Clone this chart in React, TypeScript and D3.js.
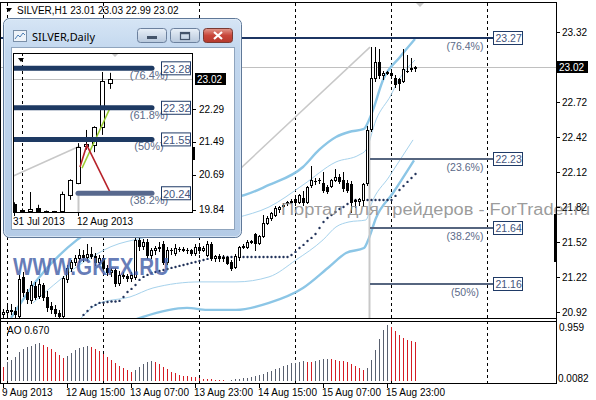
import React from 'react';
import * as d3 from 'd3';

// ---------- main H1 chart data ----------
const openP = [20.90,20.92,20.94,20.93,20.89,21.22,21.09,21.02,21.14,21.06,
 21.15,21.05,20.97,20.95,20.91,20.89,21.20,21.30,21.35,21.38,
 21.41,21.39,21.42,21.40,21.35,21.38,21.30,21.26,21.28,21.17,
 21.24,21.23,21.21,21.22,21.54,21.49,21.52,21.41,21.45,21.47,
 21.50,21.35,21.45,21.43,21.46,21.46,21.45,21.45,21.43,21.48,
 21.45,21.41,21.50,21.38,21.40,21.38,21.39,21.35,21.31,21.39,
 21.48,21.48,21.52,21.59,21.51,21.57,21.68,21.73,21.75,21.80,
 21.83,21.85,21.86,21.89,21.86,21.90,21.86,22.01,22.04,22.05,
 22.03,21.99,22.00,22.05,22.08,22.05,22.03,22.02,21.88,21.87,
 21.88,22.03,22.49,22.93,23.06,22.95,22.97,22.97,22.93,22.92,
 22.90,22.99,23.00,23.01];
const highP = [20.95,20.97,20.99,20.96,21.24,21.26,21.12,21.19,21.18,21.20,
 21.17,21.10,21.01,20.98,20.94,21.23,21.32,21.37,21.41,21.46,
 21.45,21.50,21.48,21.43,21.41,21.40,21.32,21.30,21.30,21.27,
 21.26,21.25,21.26,21.56,21.58,21.55,21.55,21.47,21.49,21.52,
 21.53,21.48,21.47,21.50,21.48,21.48,21.47,21.46,21.50,21.49,
 21.49,21.53,21.52,21.41,21.42,21.41,21.40,21.37,21.42,21.49,
 21.50,21.54,21.54,21.60,21.58,21.75,21.74,21.78,21.83,21.83,
 21.85,21.87,21.89,21.91,21.93,21.96,22.00,22.17,22.07,22.07,
 22.12,22.01,22.06,22.15,22.10,22.12,22.05,22.04,21.89,21.90,
 22.03,22.51,23.19,23.19,23.17,22.99,22.99,22.99,22.95,22.93,
 23.17,23.12,23.10,23.03];
const lowP = [20.86,20.89,20.90,20.88,20.88,21.06,21.00,21.00,21.03,21.04,
 21.02,20.93,20.91,20.89,20.87,20.88,21.18,21.27,21.32,21.35,
 21.36,21.37,21.38,21.32,21.33,21.27,21.24,21.23,21.14,21.15,
 21.21,21.19,21.19,21.20,21.45,21.46,21.38,21.38,21.42,21.44,
 21.33,21.33,21.42,21.41,21.44,21.44,21.43,21.41,21.41,21.43,
 21.44,21.40,21.37,21.36,21.36,21.36,21.33,21.28,21.30,21.37,
 21.47,21.47,21.51,21.45,21.50,21.56,21.67,21.71,21.74,21.78,
 21.82,21.84,21.85,21.84,21.85,21.84,21.85,21.99,22.02,22.03,
 21.95,21.94,21.99,22.04,22.03,21.96,21.95,21.78,21.82,21.84,
 21.83,22.01,22.47,22.90,22.93,22.92,22.96,22.93,22.85,22.82,
 22.89,22.98,22.99,22.99];
const closeP = [20.92,20.94,20.93,20.90,21.20,21.09,21.03,21.15,21.05,21.16,
 21.05,20.96,20.95,20.91,20.89,21.21,21.30,21.35,21.38,21.41,
 21.39,21.42,21.40,21.35,21.38,21.30,21.26,21.28,21.17,21.24,
 21.23,21.21,21.24,21.54,21.49,21.52,21.41,21.45,21.47,21.48,
 21.35,21.45,21.45,21.47,21.46,21.45,21.45,21.43,21.48,21.45,
 21.47,21.50,21.38,21.40,21.38,21.39,21.34,21.30,21.40,21.48,
 21.49,21.52,21.53,21.51,21.57,21.68,21.73,21.77,21.81,21.82,
 21.84,21.86,21.87,21.86,21.92,21.86,21.99,22.05,22.04,22.05,
 21.97,21.96,22.05,22.08,22.04,21.98,21.97,21.86,21.87,21.89,
 22.02,22.48,22.93,23.06,22.95,22.97,22.98,22.95,22.87,22.88,
 23.00,22.99,23.01,23.02];

// Awesome Oscillator
const aoPrev = 0.26;
const aoValues = [0.24,0.33,0.36,0.41,0.50,0.55,0.58,0.60,0.63,0.65,
 0.62,0.58,0.55,0.50,0.45,0.39,0.43,0.48,0.53,0.57,
 0.59,0.60,0.58,0.55,0.51,0.46,0.41,0.36,0.31,0.26,
 0.22,0.19,0.16,0.19,0.24,0.29,0.33,0.345,0.33,0.29,
 0.24,0.20,0.15,0.13,0.10,0.09,0.08,0.07,0.06,0.05,
 0.04,0.034,0.026,0.019,0.016,0.011,0.008,0.017,0.026,0.034,
 0.043,0.05,0.07,0.09,0.10,0.12,0.15,0.17,0.21,0.23,
 0.26,0.28,0.30,0.315,0.325,0.335,0.33,0.325,0.345,0.36,
 0.375,0.38,0.37,0.36,0.35,0.34,0.33,0.29,0.26,0.22,
 0.19,0.22,0.36,0.53,0.72,0.87,0.959,0.92,0.85,0.78,
 0.74,0.71,0.69,0.67];

// Parabolic SAR (from bar 19)
const sarStart = 19;
const sarValues = [20.852,20.895,20.929,20.964,20.981,20.998,21.00,21.006,21.01,21.01,
 21.015,21.049,21.092,21.118,21.152,21.195,21.221,21.238,21.255,21.263,
 21.272,21.281,21.289,21.298,21.306,21.315,21.323,21.332,21.341,21.349,
 21.358,21.366,21.375,21.383,21.383,21.392,21.392,21.392,21.392,21.392,
 21.392,21.392,21.392,21.392,21.392,21.392,21.392,21.392,21.392,21.392,
 21.392,21.392,21.392,21.409,21.435,21.469,21.495,21.529,21.555,21.589,
 21.640,21.692,21.726,21.752,21.777,21.803,21.820,21.846,21.872,21.880,
 21.880,21.880,21.880,21.880,21.880,21.880,21.880,21.880,21.880,21.915,
 21.966,22.000,22.035,22.069,22.103];

// Envelope bands, read as [bar, price]
const upperOuter = [[2,20.87],[8.5,21.195],[18.5,21.538],[30,21.75],[45,21.88],[58.25,21.906],[66.5,22.009],[75,22.163],[79,22.309],[83.25,22.42],[86.5,22.463],[90.25,22.489],[91.5,22.566],[92.5,22.652],[95,22.909],[99.25,23.106],[103,23.26]];
const upperInner = [[7.5,20.998],[21,21.366],[27,21.48],[35,21.555],[45,21.62],[58.25,21.726],[66.5,21.82],[75,22.009],[83.25,22.206],[89,22.266],[90.75,22.309],[93.25,22.566],[97,22.78],[98.5,22.883],[103,23.08]];
const lowerInner = [[18,20.81],[24.25,20.998],[31.75,21.049],[37.5,21.126],[49.25,21.178],[58.25,21.178],[66.5,21.221],[73.25,21.366],[80,21.538],[83.25,21.649],[86.5,21.692],[90.75,21.709],[92,21.838],[96.5,22.078],[102.5,22.395]];
const lowerOuter = [[29,20.80],[35,20.878],[46,20.955],[51,20.938],[58.25,20.938],[66.5,20.998],[75,21.126],[81.5,21.306],[85.75,21.426],[90.25,21.469],[91.5,21.555],[93.25,21.726],[97.5,21.94],[102.75,22.22]];
const grayTrend = [[55,22.01],[91.75,23.19]];

// Fibonacci
const fibPrices = [23.27, 22.23, 21.64, 21.16];
const fibPcts = ['(76.4%)', '(23.6%)', '(38.2%)', '(50%)'];
const fibStartBars = [-1, 91.75, 91.75, 91.75];
const fibEndBar = 122.5;
const fibAnchorBar = 91.5;

const priceTicks = [23.32, 22.72, 22.42, 22.12, 21.82, 21.52, 21.22, 20.92];
const currentPrice = 23.02;
const aoMaxLabel = '0.959';
const aoMinLabel = '0.0082';
const dateLabels = ['9 Aug 2013', '12 Aug 15:00', '13 Aug 07:00', '13 Aug 23:00', '14 Aug 15:00', '15 Aug 07:00', '15 Aug 23:00'];
const dateLabelBars = [0, 16, 32, 48, 64, 80, 96];
const separatorBars = [1, 25, 49, 73, 97, 121];

// ---------- inset daily chart ----------
const insetOpen = [19.98,19.84,19.80,19.87,19.81,19.80,19.80,20.20,20.50,21.38,21.41,21.85,22.93];
const insetHigh = [20.02,19.87,20.27,19.96,19.82,19.81,20.28,20.58,21.46,21.78,21.87,23.19,23.17];
const insetLow = [19.78,19.79,19.78,19.79,19.79,19.78,19.78,20.08,20.46,21.30,21.24,21.66,22.78];
const insetClose = [19.82,19.80,19.86,19.81,19.80,19.79,20.23,20.56,21.37,21.45,21.85,22.97,23.02];
const insetFibPrices = [23.28, 22.32, 21.55, 20.24];
const insetFibPcts = ['(76.4%)', '(61.8%)', '(50%)', '(38.2%)'];
const insetFibStart = [-1, -1, -1, 8];
const insetFibEnd = 17.25;
const insetTicks = [22.29, 21.49, 20.69, 19.84];
const insetDates = ['31 Jul 2013', '12 Aug 2013'];
const insetDateBars = [0, 8];
const insetGreen = [[8.5, 20.85], [12, 22.31]];
const insetRed = [[8.25, 20.88], [9.1, 21.41], [12, 20.27]];
const insetGray = [[-0.2, 20.65], [8.25, 21.39]];

const FONT = 'Liberation Sans, Arial, sans-serif';

export default function App() {
  const x = d3.scaleLinear().domain([0, 138]).range([3, 555]);
  const y = d3.scaleLinear().domain([20.92, 23.32]).range([312, 32]);
  const yAO = d3.scaleLinear().domain([0, 0.959]).range([381, 325]);
  const xi = d3.scaleLinear().domain([0, 12]).range([14, 110]);
  const yi = d3.scaleLinear().domain([19.84, 23.02]).range([209.7, 79]);

  const cx = (i: number) => Math.round(x(i)) + 0.5;
  const band = d3.line<number[]>().x(d => x(d[0])).y(d => y(d[1])).curve(d3.curveMonotoneX);
  const straight = d3.line<number[]>().x(d => x(d[0])).y(d => y(d[1]));
  const lineI = d3.line<number[]>().x(d => xi(d[0])).y(d => yi(d[1]));

  const candles = openP.map((o, i) => {
    const c = closeP[i];
    const X = cx(i);
    const top = Math.round(y(Math.max(o, c))) + 0.5;
    const bot = Math.round(y(Math.min(o, c))) + 0.5;
    return (
      <g key={i}>
        <line x1={X} x2={X} y1={Math.round(y(highP[i]))} y2={Math.round(y(lowP[i])) + 1} stroke="#000" />
        {bot - top < 1 ? (
          <line x1={X - 1.5} x2={X + 1.5} y1={top} y2={top} stroke="#000" />
        ) : (
          <rect x={X - 1} y={top} width={2} height={bot - top} fill={c >= o ? '#fff' : '#000'} stroke="#000" />
        )}
      </g>
    );
  });

  const aoBars = aoValues.map((v, i) => {
    const prev = i === 0 ? aoPrev : aoValues[i - 1];
    const col = v >= prev ? '#59606f' : '#d41c24';
    const top = Math.round(yAO(v));
    const base = Math.round(yAO(0));
    return <rect key={i} x={Math.round(x(i))} y={top} width={1} height={base - top} fill={col} />;
  });

  const insetCandles = insetOpen.map((o, i) => {
    const c = insetClose[i];
    const X = Math.round(xi(i)) + 0.5;
    const top = Math.round(yi(Math.max(o, c))) + 0.5;
    const bot = Math.round(yi(Math.min(o, c))) + 0.5;
    return (
      <g key={i}>
        <line x1={X} x2={X} y1={yi(insetHigh[i])} y2={yi(insetLow[i])} stroke="#000" />
        {bot - top < 1 ? (
          <line x1={X - 2.5} x2={X + 2.5} y1={top} y2={top} stroke="#000" />
        ) : (
          <rect x={X - 2} y={top} width={4} height={bot - top} fill={c >= o ? '#fff' : '#000'} stroke="#000" />
        )}
      </g>
    );
  });

  return (
    <div style={{ position: 'fixed', left: 0, top: 0, width: 596, height: 400, background: '#fff' }}>
      <svg width={596} height={400} style={{ display: 'block', fontFamily: FONT }}>
        <defs>
          <clipPath id="mainClip"><rect x={1} y={3} width={555} height={315} /></clipPath>
          <clipPath id="insetClip"><rect x={13} y={53} width={180} height={160} /></clipPath>
          <linearGradient id="frameGrad" x1="0" y1="0" x2="0" y2="1">
            <stop offset="0" stopColor="#d6e5f5" />
            <stop offset="0.15" stopColor="#c2d7ee" />
            <stop offset="1" stopColor="#b4cbe6" />
          </linearGradient>
          <linearGradient id="btnGrad" x1="0" y1="0" x2="0" y2="1">
            <stop offset="0" stopColor="#e9f0f8" />
            <stop offset="0.5" stopColor="#d0dcea" />
            <stop offset="1" stopColor="#b7c8dc" />
          </linearGradient>
          <linearGradient id="closeGrad" x1="0" y1="0" x2="0" y2="1">
            <stop offset="0" stopColor="#e29a8e" />
            <stop offset="0.5" stopColor="#c8463a" />
            <stop offset="1" stopColor="#b4392d" />
          </linearGradient>
        </defs>
        <rect x={0} y={0} width={596} height={400} fill="#fff" />

        {separatorBars.map(b => (
          <line key={b} x1={cx(b)} x2={cx(b)} y1={3} y2={383} stroke="#000" strokeDasharray="3,3" />
        ))}

        <g clipPath="url(#mainClip)">
          <line x1={1} x2={556} y1={Math.round(y(currentPrice)) + 0.5} y2={Math.round(y(currentPrice)) + 0.5} stroke="#c0c0c0" />
          <path d={straight(grayTrend) || ''} fill="none" stroke="#c8c8c8" strokeWidth={1.5} />
          <path d={band(upperOuter) || ''} fill="none" stroke="#8cc6e6" strokeWidth={2.4} />
          <path d={band(lowerOuter) || ''} fill="none" stroke="#8cc6e6" strokeWidth={2.4} />
          <path d={band(upperInner) || ''} fill="none" stroke="#a6d2ec" strokeWidth={1} />
          <path d={band(lowerInner) || ''} fill="none" stroke="#a6d2ec" strokeWidth={1} />
          <line x1={Math.round(x(fibAnchorBar)) + 0.5} x2={Math.round(x(fibAnchorBar)) + 0.5} y1={y(22.48)} y2={318} stroke="#c8c8c8" strokeWidth={2} />
          {fibPrices.map((p, k) => (
            <line key={k} x1={x(fibStartBars[k])} x2={x(fibEndBar)} y1={Math.round(y(p))} y2={Math.round(y(p))}
              stroke={k === 0 ? '#1c3563' : '#56657f'} strokeWidth={2} />
          ))}
          {sarValues.map((v, k) => (
            <circle key={k} cx={cx(sarStart + k)} cy={y(v)} r={1.2} fill="#22335a" />
          ))}
          {candles}
        </g>

        {fibPrices.map((p, k) => {
          const Y = Math.round(y(p));
          return (
            <g key={k}>
              <text x={465} y={Y + 12} textAnchor="middle" fontSize={10.5} fill="#5b6a88">{fibPcts[k]}</text>
              <rect x={493.5} y={Y - 6.5} width={29} height={13} fill="#fff" stroke="#1f3a66" />
              <text x={495.5} y={Y + 4} fontSize={10.5} fill="#44557c">{p.toFixed(2)}</text>
            </g>
          );
        })}

        <text x={13} y={275} fontSize={23} fontWeight="bold" fill="#4b66ab" fillOpacity={0.85} textLength={156} lengthAdjust="spacingAndGlyphs">WWW.GKFX.RU</text>
        <text x={281} y={215} fontSize={16} fill="#8a8a8a" fillOpacity={0.85} textLength={309} lengthAdjust="spacingAndGlyphs">Портал для трейдеров - ForTrader.ru</text>

        <line x1={0.5} x2={0.5} y1={2} y2={384} stroke="#000" />
        <line x1={0} x2={556} y1={2.5} y2={2.5} stroke="#000" />
        <line x1={0} x2={556} y1={318.5} y2={318.5} stroke="#000" />
        <line x1={0} x2={556} y1={321.5} y2={321.5} stroke="#000" />
        <line x1={0} x2={556} y1={383.5} y2={383.5} stroke="#000" />
        <line x1={556.5} x2={556.5} y1={2} y2={384} stroke="#000" />

        <polygon points="6,8 12,8 9,12" fill="#000" />
        <polygon points="416,3 424,3 420,7" fill="#c8c8c8" />
        <text x={17} y={14} fontSize={10} fill="#000">SILVER,H1  23.01 23.03 22.99 23.02</text>

        {priceTicks.map(p => (
          <g key={p}>
            <line x1={557} x2={560} y1={Math.round(y(p)) + 0.5} y2={Math.round(y(p)) + 0.5} stroke="#000" />
            <text x={562} y={y(p) + 3.5} fontSize={10} fill="#000">{p.toFixed(2)}</text>
          </g>
        ))}
        <rect x={557} y={y(currentPrice) - 6} width={31} height={12} fill="#000" />
        <text x={559} y={y(currentPrice) + 3.5} fontSize={10} fill="#fff">{currentPrice.toFixed(2)}</text>
        <rect x={554} y={214} width={3} height={48} fill="#000" />

        {aoBars}
        <text x={7} y={334} fontSize={10} fill="#000">AO 0.670</text>
        <text x={559} y={331} fontSize={10} fill="#000">{aoMaxLabel}</text>
        <text x={558} y={382} fontSize={10} fill="#000">{aoMinLabel}</text>

        {dateLabelBars.map((b, k) => (
          <g key={b}>
            <line x1={cx(b)} x2={cx(b)} y1={384} y2={388} stroke="#000" />
            <text x={x(b) - 1} y={396} fontSize={10} fill="#000">{dateLabels[k]}</text>
          </g>
        ))}

        {/* ---------- inset window ---------- */}
        <g>
          <rect x={3.5} y={18.5} width={238} height={219} rx={6} fill="url(#frameGrad)" stroke="#5f7898" />
          <rect x={4.5} y={19.5} width={236} height={217} rx={5} fill="none" stroke="#e6eff9" strokeOpacity={0.7} />
          <rect x={13.5} y={30.5} width={13} height={11} fill="#eef3f9" stroke="#7a8fa8" />
          <path d="M15,39 L18,35 L20,37 L23,33 L25,35" fill="none" stroke="#4d7fb5" />
          <text x={32} y={41} fontSize={11.5} fill="#000" fontFamily="Noto Sans, Liberation Sans, sans-serif" textLength={63} lengthAdjust="spacingAndGlyphs">SILVER,Daily</text>
          <rect x={137.5} y={28.5} width={29} height={14} rx={3} fill="url(#btnGrad)" stroke="#6c819e" />
          <rect x={147} y={36} width={10} height={3} fill="#44546a" />
          <rect x={170.5} y={28.5} width={29} height={14} rx={3} fill="url(#btnGrad)" stroke="#6c819e" />
          <rect x={180.5} y={32.5} width={9} height={7} fill="none" stroke="#44546a" strokeWidth={1.2} />
          <line x1={180.5} x2={189.5} y1={33.5} y2={33.5} stroke="#44546a" strokeWidth={1.5} />
          <rect x={203.5} y={28.5} width={29} height={14} rx={3} fill="url(#closeGrad)" stroke="#7a3a33" />
          <path d="M214,32 L222,39 M222,32 L214,39" stroke="#fff" strokeWidth={2.2} />
          <rect x={11.5} y={47.5} width={223} height={182} fill="#fff" stroke="#8fa4bd" />

          <g clipPath="url(#insetClip)">
            <line x1={13} x2={193} y1={Math.round(yi(23.02)) + 0.5} y2={Math.round(yi(23.02)) + 0.5} stroke="#c0c0c0" />
            <line x1={22.5} x2={22.5} y1={53} y2={213} stroke="#000" strokeDasharray="3,3" />
            <path d={lineI(insetGray) || ''} fill="none" stroke="#c8c8c8" strokeWidth={1.5} />
            <line x1={Math.round(xi(8)) + 0.5} x2={Math.round(xi(8)) + 0.5} y1={yi(20.24)} y2={213} stroke="#c8c8c8" strokeWidth={2} />
            {insetCandles}
            <path d={lineI(insetGreen) || ''} fill="none" stroke="#9acd32" strokeWidth={1.5} />
            <path d={lineI(insetRed) || ''} fill="none" stroke="#b8232b" strokeWidth={1.6} />
            {insetFibPrices.map((p, k) => (
              <line key={k} x1={xi(insetFibStart[k])} x2={xi(insetFibEnd)} y1={yi(p)} y2={yi(p)}
                stroke={k === 3 ? '#58698e' : '#1e3a63'} strokeWidth={5} strokeLinecap="round" />
            ))}
            <polygon points="111,53 119,53 115,57" fill="#c8c8c8" />
            <polygon points="18,58 24,58 21,62" fill="#000" />
          </g>
          {insetFibPrices.map((p, k) => {
            const Y = yi(p);
            return (
              <g key={k}>
                <text x={149} y={Y + 11} textAnchor="middle" fontSize={11} fill="#5b6a88">{insetFibPcts[k]}</text>
                <rect x={161.5} y={Y - 6.5} width={29} height={13} fill="#fff" fillOpacity={0.6} stroke="#1f3a66" />
                <text x={163} y={Y + 4.5} fontSize={11} fill="#44557c">{p.toFixed(2)}</text>
              </g>
            );
          })}
          <rect x={13.5} y={53.5} width={179} height={159} fill="none" stroke="#000" />
          {insetTicks.map(p => (
            <g key={p}>
              <line x1={193} x2={196} y1={Math.round(yi(p)) + 0.5} y2={Math.round(yi(p)) + 0.5} stroke="#000" />
              <text x={199} y={yi(p) + 3.5} fontSize={10} fill="#000">{p.toFixed(2)}</text>
            </g>
          ))}
          <rect x={195} y={yi(23.02) - 6} width={31} height={12} fill="#000" />
          <text x={197} y={yi(23.02) + 3.5} fontSize={10} fill="#fff">23.02</text>
          <rect x={192} y={147} width={3} height={13} fill="#000" />
          {insetDateBars.map((b, k) => (
            <g key={b}>
              <line x1={Math.round(xi(b)) + 0.5} x2={Math.round(xi(b)) + 0.5} y1={213} y2={216} stroke="#000" />
              <text x={xi(b) - 1} y={225} fontSize={10} fill="#000">{insetDates[k]}</text>
            </g>
          ))}
        </g>
      </svg>
    </div>
  );
}
